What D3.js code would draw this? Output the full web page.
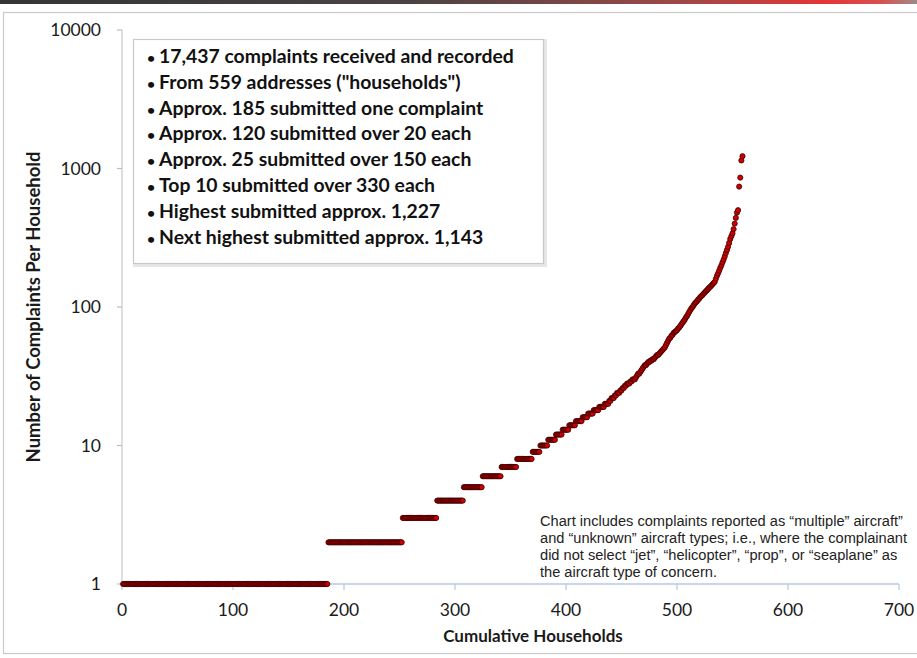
<!DOCTYPE html>
<html>
<head>
<meta charset="utf-8">
<script src="https://cdn.jsdelivr.net/npm/d3@7/dist/d3.min.js"></script>
<style>
  html, body { margin: 0; padding: 0; background: #ffffff; }
  svg { display: block; }
</style>
</head>
<body>
<svg id="chart" width="917" height="658"></svg>
<script>
// ---------------- DATA ----------------
// Low integer counts: value and how many households submitted it (sorted ascending)
const stepValues = [1, 2, 3, 4, 5, 6, 7, 8, 9, 10, 11, 12, 13, 14, 15, 16, 17, 18, 19, 20];
const stepCounts = [185, 67, 31, 24, 17, 17, 14, 14, 7, 7, 7, 6, 6, 6, 6, 5, 5, 5, 5, 4];
// Upper tail (households 439..559)
const tailValues = [
  21,21,22,22,22,23,23,24,24,24,25,
  25,26,26,27,27,28,28,28,29,29,30,30,
  30,31,32,33,33,34,35,36,37,38,38,39,40,
  40,41,41,42,42,43,44,45,45,46,47,48,49,50,
  51,53,55,57,59,60,62,63,65,66,67,68,70,
  71,73,75,77,79,81,84,86,89,92,95,98,
  100,103,106,108,110,113,115,118,120,122,125,
  127,130,132,135,138,140,143,146,149,
  152,160,168,175,183,192,
  200,210,220,232,245,258,272,290,310,
  325,340,365,400,440,480,500,740,860,1143,1227
];
const xTicks = [0, 100, 200, 300, 400, 500, 600, 700];
const yTicks = [1, 10, 100, 1000, 10000];
const legendLines = [
  "17,437 complaints received and recorded",
  "From 559 addresses (\"households\")",
  "Approx. 185 submitted one complaint",
  "Approx. 120 submitted over 20 each",
  "Approx. 25 submitted over 150 each",
  "Top 10 submitted over 330 each",
  "Highest submitted approx. 1,227",
  "Next highest submitted approx. 1,143"
];
const noteLines = [
  "Chart includes complaints reported as \u201cmultiple\u201d aircraft\u201d",
  "and \u201cunknown\u201d aircraft types; i.e., where the complainant",
  "did not select \u201cjet\u201d, \u201chelicopter\u201d, \u201cprop\u201d, or \u201cseaplane\u201d as",
  "the aircraft type of concern."
];
const xTitle = "Cumulative Households";
const yTitle = "Number of Complaints Per Household";

// build point list (household index, complaints)
const points = [];
stepValues.forEach((v, i) => {
  for (let k = 0; k < stepCounts[i]; k++) points.push(v);
});
tailValues.forEach(v => points.push(v));
const data = points.map((v, i) => ({ n: i + 1, v: v }));

// ---------------- LAYOUT ----------------
const svg = d3.select("#chart");
const W = 917, H = 658;
const FONT = "Lato, 'Open Sans', sans-serif";
const x = d3.scaleLinear().domain([0, 700]).range([122, 899]);
const y = d3.scaleLog().domain([1, 10000]).range([584, 30]);

const defs = svg.append("defs");
const grad = defs.append("linearGradient").attr("id", "topbar").attr("x1", "0%").attr("x2", "100%");
[["0%", "#353535"], ["45%", "#4a4343"], ["75%", "#a04848"], ["90%", "#e63535"], ["96%", "#d85050"], ["100%", "#a08a8a"]]
  .forEach(s => grad.append("stop").attr("offset", s[0]).attr("stop-color", s[1]));

svg.append("rect").attr("x", 0).attr("y", 0).attr("width", W).attr("height", H).attr("fill", "#ffffff");
svg.append("rect").attr("x", 0).attr("y", 0).attr("width", W).attr("height", 4).attr("fill", "url(#topbar)");
// outer chart frame
svg.append("rect").attr("x", 3.5).attr("y", 12.5).attr("width", W + 10).attr("height", 641)
  .attr("fill", "none").attr("stroke", "#c9c9c9").attr("stroke-width", 1.2);

// axes lines
svg.append("line").attr("x1", x(0)).attr("x2", x(0)).attr("y1", y(10000)).attr("y2", y(1))
  .attr("stroke", "#cdcdcd").attr("stroke-width", 1.3);
svg.append("line").attr("x1", x(0)).attr("x2", x(700)).attr("y1", y(1)).attr("y2", y(1))
  .attr("stroke", "#b4c8e4").attr("stroke-width", 1.3);

// x ticks
const xg = svg.append("g");
xg.selectAll("line").data(xTicks).join("line")
  .attr("x1", d => x(d)).attr("x2", d => x(d)).attr("y1", y(1)).attr("y2", y(1) + 6)
  .attr("stroke", "#b4c8e4").attr("stroke-width", 1.2);
xg.selectAll("text").data(xTicks).join("text")
  .attr("x", d => x(d)).attr("y", 616).attr("text-anchor", "middle")
  .attr("font-family", FONT).attr("font-size", 17.5).attr("fill", "#1a1a1a")
  .text(d => d);

// y ticks
const yg = svg.append("g");
yg.selectAll("line").data(yTicks).join("line")
  .attr("x1", x(0) - 5).attr("x2", x(0)).attr("y1", d => y(d)).attr("y2", d => y(d))
  .attr("stroke", "#bdbdbd").attr("stroke-width", 1.2);
yg.selectAll("text").data(yTicks).join("text")
  .attr("x", 101).attr("y", d => y(d) + 6).attr("text-anchor", "end")
  .attr("font-family", FONT).attr("font-size", 17.5).attr("fill", "#1a1a1a")
  .text(d => d);

// axis titles
svg.append("text").attr("x", 533).attr("y", 642).attr("text-anchor", "middle")
  .attr("font-family", FONT).attr("font-weight", "bold")
  .attr("font-size", 17).attr("fill", "#1a1a1a").text(xTitle);
svg.append("text").attr("transform", "translate(40,307) rotate(-90)").attr("text-anchor", "middle")
  .attr("font-family", FONT).attr("font-weight", "bold")
  .attr("font-size", 18.5).attr("fill", "#1a1a1a").text(yTitle);

// data points
svg.append("g").selectAll("circle").data(data).join("circle")
  .attr("cx", d => x(d.n)).attr("cy", d => y(d.v)).attr("r", 2.6)
  .attr("fill", "#cc0000").attr("stroke", "#330000").attr("stroke-width", 0.75);

// legend box
const lg = svg.append("g");
lg.append("rect").attr("x", 134.5).attr("y", 40.5).attr("width", 411).attr("height", 225)
  .attr("fill", "none").attr("stroke", "#e6e6e6").attr("stroke-width", 3);
lg.append("rect").attr("x", 133.5).attr("y", 39.5).attr("width", 410).attr("height", 224)
  .attr("fill", "#ffffff").attr("stroke", "#c8c8c8").attr("stroke-width", 1.2);
const lt = lg.selectAll("g.l").data(legendLines).join("g").attr("class", "l");
lt.append("text").attr("x", 147).attr("y", (d, i) => 63 + i * 25.8)
  .attr("font-family", FONT).attr("font-weight", "bold")
  .attr("font-size", 14).attr("fill", "#111").text("\u2022");
const ltxt = lt.append("text").attr("class", "lt").attr("x", 159).attr("y", (d, i) => 63 + i * 25.8)
  .attr("font-family", FONT).attr("font-weight", "bold")
  .attr("font-size", 18).attr("fill", "#111").text(d => d);
// fit first line to the reference width
const w0 = ltxt.node().getComputedTextLength();
if (w0 > 0) ltxt.attr("font-size", 18 * 355 / w0);

// note
const notes = svg.append("g").selectAll("text").data(noteLines).join("text")
  .attr("x", 540).attr("y", (d, i) => 526 + i * 17)
  .attr("font-family", "'Liberation Sans', Arial, sans-serif").attr("font-size", 14)
  .attr("fill", "#222").text(d => d);
const nw = notes.node().getComputedTextLength();
if (nw > 0) notes.attr("font-size", 14 * 363 / nw);
</script>
</body>
</html>
